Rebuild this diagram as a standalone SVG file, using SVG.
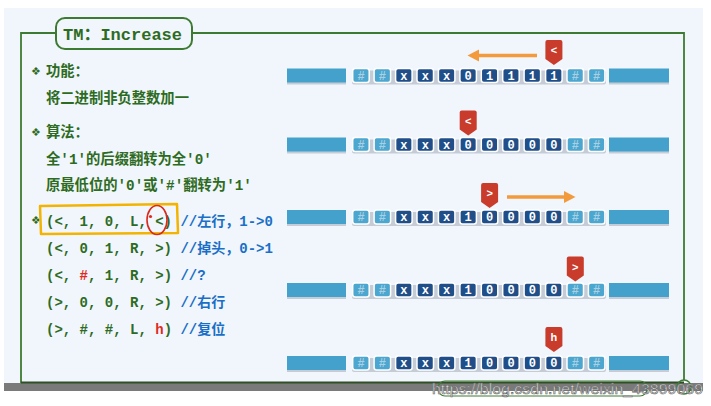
<svg xmlns="http://www.w3.org/2000/svg" width="711" height="406" viewBox="0 0 711 406">
<style>
.frame{fill:none;stroke:#3e7b32;stroke-width:1.8}
.hd{font-family:"Liberation Mono","Noto Sans CJK SC",monospace;font-weight:bold;font-size:14.3px;fill:#2d6b22}
.bul{font-family:"DejaVu Sans",sans-serif;font-size:11px;fill:#2d6b22}
.code{font-family:"Liberation Mono","Noto Sans CJK SC",monospace;font-weight:bold;font-size:14px;fill:#2d6b22}
.cm{fill:#1a6fc7}
.red{fill:#e02a1e}
.bar{fill:#44a1cc}
.sh{fill:#c5ccd6}
.cl{fill:#4ba6d0;stroke:#fff;stroke-width:1.5}
.cd{fill:#1f4e88;stroke:#fff;stroke-width:1.5}
.tl{font-family:"Liberation Mono",monospace;font-weight:bold;font-size:12px;text-anchor:middle;fill:#a9cfe2}
.td{font-family:"Liberation Mono",monospace;font-weight:bold;font-size:12px;text-anchor:middle;fill:#ffffff}
.head{fill:#c93b2b}
.ht{font-family:"Liberation Sans",sans-serif;font-weight:bold;font-size:11px;text-anchor:middle;fill:#fff}
.arr{stroke:#f39a3c;stroke-width:3.5;fill:none}
</style>
<defs>
<path id="tag" d="M0,2 q0,-2 2,-2 h13 q2,0 2,2 v17 l-8.5,6 l-8.5,-6 z"/>
</defs>
<rect x="0" y="0" width="711" height="406" fill="#ffffff"/>
<rect x="4" y="8" width="699" height="375" fill="#f1f6fc"/>
<!-- frame -->
<g id="frame">
<path class="frame" d="M56,33 H21 V383 M192,33 H684 V380"/>
<rect x="56" y="18" width="136" height="31" rx="9" fill="#f1f6fc" stroke="#3e7b32" stroke-width="2"/>
<text x="63" y="40" font-family="'Liberation Mono','Noto Sans CJK SC',monospace" font-weight="bold" font-size="17" fill="#2d6b22">TM：Increase</text>
</g>
<!-- left text -->
<g id="text-left">
<text class="bul" x="31" y="75">❖</text>
<text class="hd" x="46" y="76">功能：</text>
<text class="hd" x="46" y="103">将二进制非负整数加一</text>
<text class="bul" x="31" y="136">❖</text>
<text class="hd" x="46" y="137">算法：</text>
<text class="hd" x="46" y="163.5">全'1'的后缀翻转为全'0'</text>
<text class="hd" x="46" y="190">原最低位的'0'或'#'翻转为'1'</text>
<text class="bul" x="31" y="224">❖</text>
<text class="code" x="46" y="225.5">(&lt;, 1, 0, L, &lt;) <tspan class="cm">//左行，1-&gt;0</tspan></text>
<text class="code" x="46" y="253">(&lt;, 0, 1, R, &gt;) <tspan class="cm">//掉头，0-&gt;1</tspan></text>
<text class="code" x="46" y="280">(&lt;, <tspan class="red">#</tspan>, 1, R, &gt;) <tspan class="cm">//?</tspan></text>
<text class="code" x="46" y="307">(&gt;, 0, 0, R, &gt;) <tspan class="cm">//右行</tspan></text>
<text class="code" x="46" y="334">(&gt;, #, #, L, <tspan class="red">h</tspan>) <tspan class="cm">//复位</tspan></text>
<path d="M40,206 L177,204 L178,233 L41,234 Z" fill="none" stroke="#f2b400" stroke-width="2.5" stroke-linejoin="round"/>
<ellipse cx="157" cy="220" rx="10" ry="14.5" fill="none" stroke="#d82a1e" stroke-width="1.6"/>
<circle cx="150.5" cy="216.5" r="1.6" fill="#e02a1e"/>
</g>
<!-- tapes -->
<g id="tape1" transform="translate(0,68.5)">
<rect class="sh" x="287" y="2" width="59" height="14"/><rect class="bar" x="287" y="0" width="59" height="14"/>
<rect class="sh" x="609" y="2" width="60" height="14"/><rect class="bar" x="609" y="0" width="60" height="14"/>
<rect class="sh" x="352" y="2" width="254" height="14" rx="2"/>
<rect class="cl" x="352.7" y="0" width="16.5" height="14" rx="2.5"/><text class="tl" x="361" y="11">#</text>
<rect class="cl" x="374.1" y="0" width="16.5" height="14" rx="2.5"/><text class="tl" x="382.4" y="11">#</text>
<rect class="cd" x="395.6" y="0" width="16.5" height="14" rx="2.5"/><text class="td" x="403.8" y="11">x</text>
<rect class="cd" x="417" y="0" width="16.5" height="14" rx="2.5"/><text class="td" x="425.3" y="11">x</text>
<rect class="cd" x="438.4" y="0" width="16.5" height="14" rx="2.5"/><text class="td" x="446.7" y="11">x</text>
<rect class="cd" x="459.9" y="0" width="16.5" height="14" rx="2.5"/><text class="td" x="468.1" y="11">0</text>
<rect class="cd" x="481.3" y="0" width="16.5" height="14" rx="2.5"/><text class="td" x="489.6" y="11">1</text>
<rect class="cd" x="502.7" y="0" width="16.5" height="14" rx="2.5"/><text class="td" x="511" y="11">1</text>
<rect class="cd" x="524.1" y="0" width="16.5" height="14" rx="2.5"/><text class="td" x="532.4" y="11">1</text>
<rect class="cd" x="545.6" y="0" width="16.5" height="14" rx="2.5"/><text class="td" x="553.9" y="11">1</text>
<rect class="cl" x="567" y="0" width="16.5" height="14" rx="2.5"/><text class="tl" x="575.3" y="11">#</text>
<rect class="cl" x="588.4" y="0" width="16.5" height="14" rx="2.5"/><text class="tl" x="596.7" y="11">#</text>
</g>
<g id="tape2" transform="translate(0,137.5)">
<rect class="sh" x="287" y="2" width="59" height="14"/><rect class="bar" x="287" y="0" width="59" height="14"/>
<rect class="sh" x="609" y="2" width="60" height="14"/><rect class="bar" x="609" y="0" width="60" height="14"/>
<rect class="sh" x="352" y="2" width="254" height="14" rx="2"/>
<rect class="cl" x="352.7" y="0" width="16.5" height="14" rx="2.5"/><text class="tl" x="361" y="11">#</text>
<rect class="cl" x="374.1" y="0" width="16.5" height="14" rx="2.5"/><text class="tl" x="382.4" y="11">#</text>
<rect class="cd" x="395.6" y="0" width="16.5" height="14" rx="2.5"/><text class="td" x="403.8" y="11">x</text>
<rect class="cd" x="417" y="0" width="16.5" height="14" rx="2.5"/><text class="td" x="425.3" y="11">x</text>
<rect class="cd" x="438.4" y="0" width="16.5" height="14" rx="2.5"/><text class="td" x="446.7" y="11">x</text>
<rect class="cd" x="459.9" y="0" width="16.5" height="14" rx="2.5"/><text class="td" x="468.1" y="11">0</text>
<rect class="cd" x="481.3" y="0" width="16.5" height="14" rx="2.5"/><text class="td" x="489.6" y="11">0</text>
<rect class="cd" x="502.7" y="0" width="16.5" height="14" rx="2.5"/><text class="td" x="511" y="11">0</text>
<rect class="cd" x="524.1" y="0" width="16.5" height="14" rx="2.5"/><text class="td" x="532.4" y="11">0</text>
<rect class="cd" x="545.6" y="0" width="16.5" height="14" rx="2.5"/><text class="td" x="553.9" y="11">0</text>
<rect class="cl" x="567" y="0" width="16.5" height="14" rx="2.5"/><text class="tl" x="575.3" y="11">#</text>
<rect class="cl" x="588.4" y="0" width="16.5" height="14" rx="2.5"/><text class="tl" x="596.7" y="11">#</text>
</g>
<g id="tape3" transform="translate(0,210)">
<rect class="sh" x="287" y="2" width="59" height="14"/><rect class="bar" x="287" y="0" width="59" height="14"/>
<rect class="sh" x="609" y="2" width="60" height="14"/><rect class="bar" x="609" y="0" width="60" height="14"/>
<rect class="sh" x="352" y="2" width="254" height="14" rx="2"/>
<rect class="cl" x="352.7" y="0" width="16.5" height="14" rx="2.5"/><text class="tl" x="361" y="11">#</text>
<rect class="cl" x="374.1" y="0" width="16.5" height="14" rx="2.5"/><text class="tl" x="382.4" y="11">#</text>
<rect class="cd" x="395.6" y="0" width="16.5" height="14" rx="2.5"/><text class="td" x="403.8" y="11">x</text>
<rect class="cd" x="417" y="0" width="16.5" height="14" rx="2.5"/><text class="td" x="425.3" y="11">x</text>
<rect class="cd" x="438.4" y="0" width="16.5" height="14" rx="2.5"/><text class="td" x="446.7" y="11">x</text>
<rect class="cd" x="459.9" y="0" width="16.5" height="14" rx="2.5"/><text class="td" x="468.1" y="11">1</text>
<rect class="cd" x="481.3" y="0" width="16.5" height="14" rx="2.5"/><text class="td" x="489.6" y="11">0</text>
<rect class="cd" x="502.7" y="0" width="16.5" height="14" rx="2.5"/><text class="td" x="511" y="11">0</text>
<rect class="cd" x="524.1" y="0" width="16.5" height="14" rx="2.5"/><text class="td" x="532.4" y="11">0</text>
<rect class="cd" x="545.6" y="0" width="16.5" height="14" rx="2.5"/><text class="td" x="553.9" y="11">0</text>
<rect class="cl" x="567" y="0" width="16.5" height="14" rx="2.5"/><text class="tl" x="575.3" y="11">#</text>
<rect class="cl" x="588.4" y="0" width="16.5" height="14" rx="2.5"/><text class="tl" x="596.7" y="11">#</text>
</g>
<g id="tape4" transform="translate(0,283)">
<rect class="sh" x="287" y="2" width="59" height="14"/><rect class="bar" x="287" y="0" width="59" height="14"/>
<rect class="sh" x="609" y="2" width="60" height="14"/><rect class="bar" x="609" y="0" width="60" height="14"/>
<rect class="sh" x="352" y="2" width="254" height="14" rx="2"/>
<rect class="cl" x="352.7" y="0" width="16.5" height="14" rx="2.5"/><text class="tl" x="361" y="11">#</text>
<rect class="cl" x="374.1" y="0" width="16.5" height="14" rx="2.5"/><text class="tl" x="382.4" y="11">#</text>
<rect class="cd" x="395.6" y="0" width="16.5" height="14" rx="2.5"/><text class="td" x="403.8" y="11">x</text>
<rect class="cd" x="417" y="0" width="16.5" height="14" rx="2.5"/><text class="td" x="425.3" y="11">x</text>
<rect class="cd" x="438.4" y="0" width="16.5" height="14" rx="2.5"/><text class="td" x="446.7" y="11">x</text>
<rect class="cd" x="459.9" y="0" width="16.5" height="14" rx="2.5"/><text class="td" x="468.1" y="11">1</text>
<rect class="cd" x="481.3" y="0" width="16.5" height="14" rx="2.5"/><text class="td" x="489.6" y="11">0</text>
<rect class="cd" x="502.7" y="0" width="16.5" height="14" rx="2.5"/><text class="td" x="511" y="11">0</text>
<rect class="cd" x="524.1" y="0" width="16.5" height="14" rx="2.5"/><text class="td" x="532.4" y="11">0</text>
<rect class="cd" x="545.6" y="0" width="16.5" height="14" rx="2.5"/><text class="td" x="553.9" y="11">0</text>
<rect class="cl" x="567" y="0" width="16.5" height="14" rx="2.5"/><text class="tl" x="575.3" y="11">#</text>
<rect class="cl" x="588.4" y="0" width="16.5" height="14" rx="2.5"/><text class="tl" x="596.7" y="11">#</text>
</g>
<g id="tape5" transform="translate(0,356)">
<rect class="sh" x="287" y="2" width="59" height="14"/><rect class="bar" x="287" y="0" width="59" height="14"/>
<rect class="sh" x="609" y="2" width="60" height="14"/><rect class="bar" x="609" y="0" width="60" height="14"/>
<rect class="sh" x="352" y="2" width="254" height="14" rx="2"/>
<rect class="cl" x="352.7" y="0" width="16.5" height="14" rx="2.5"/><text class="tl" x="361" y="11">#</text>
<rect class="cl" x="374.1" y="0" width="16.5" height="14" rx="2.5"/><text class="tl" x="382.4" y="11">#</text>
<rect class="cd" x="395.6" y="0" width="16.5" height="14" rx="2.5"/><text class="td" x="403.8" y="11">x</text>
<rect class="cd" x="417" y="0" width="16.5" height="14" rx="2.5"/><text class="td" x="425.3" y="11">x</text>
<rect class="cd" x="438.4" y="0" width="16.5" height="14" rx="2.5"/><text class="td" x="446.7" y="11">x</text>
<rect class="cd" x="459.9" y="0" width="16.5" height="14" rx="2.5"/><text class="td" x="468.1" y="11">1</text>
<rect class="cd" x="481.3" y="0" width="16.5" height="14" rx="2.5"/><text class="td" x="489.6" y="11">0</text>
<rect class="cd" x="502.7" y="0" width="16.5" height="14" rx="2.5"/><text class="td" x="511" y="11">0</text>
<rect class="cd" x="524.1" y="0" width="16.5" height="14" rx="2.5"/><text class="td" x="532.4" y="11">0</text>
<rect class="cd" x="545.6" y="0" width="16.5" height="14" rx="2.5"/><text class="td" x="553.9" y="11">0</text>
<rect class="cl" x="567" y="0" width="16.5" height="14" rx="2.5"/><text class="tl" x="575.3" y="11">#</text>
<rect class="cl" x="588.4" y="0" width="16.5" height="14" rx="2.5"/><text class="tl" x="596.7" y="11">#</text>
</g>
<!-- heads -->
<g id="head1" transform="translate(545.4,40)"><use href="#tag" class="head"/><text class="ht" x="8.5" y="14">&lt;</text></g>
<g id="head2" transform="translate(459.7,110.5)"><use href="#tag" class="head"/><text class="ht" x="8.5" y="14">&lt;</text></g>
<g id="head3" transform="translate(481.1,183)"><use href="#tag" class="head"/><text class="ht" x="8.5" y="14">&gt;</text></g>
<g id="head4" transform="translate(566.8,256.5)"><use href="#tag" class="head"/><text class="ht" x="8.5" y="14">&gt;</text></g>
<g id="head5" transform="translate(545.4,327)"><use href="#tag" class="head"/><text class="ht" x="8.5" y="14">h</text></g>
<!-- arrows -->
<g id="connectors">
<line class="arr" x1="537" y1="55.5" x2="477" y2="55.5"/>
<path d="M467.5,55.5 L479,49.5 L479,61.5 Z" fill="#f39a3c"/>
<line class="arr" x1="507" y1="197" x2="566" y2="197"/>
<path d="M575.5,197 L564,191 L564,203 Z" fill="#f39a3c"/>
</g>
<!-- bottom bar -->
<rect x="4" y="383" width="699" height="8" fill="#7a7a7a"/>
<line x1="21" y1="382.5" x2="684" y2="382.5" stroke="#2f4f25" stroke-width="2"/>
<rect x="438" y="381" width="209" height="15" rx="7" fill="none" stroke="#3e7b32" stroke-width="1.2"/>
<circle cx="684" cy="387" r="7" fill="none" stroke="#3e7b32" stroke-width="1.5"/>
<text x="432" y="394" font-family="'Liberation Sans',sans-serif" font-size="15" fill="#f2f2f2" stroke="#666" stroke-width="0.6" textLength="271" lengthAdjust="spacingAndGlyphs">https://blog.csdn.net/weixin_43899069</text>
</svg>
